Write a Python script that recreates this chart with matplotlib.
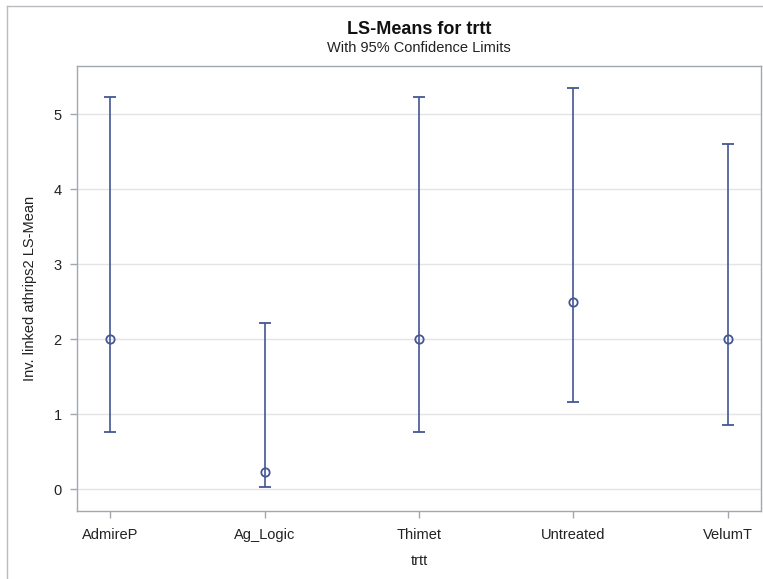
import matplotlib
matplotlib.use("Agg")
import matplotlib.pyplot as plt
from matplotlib.lines import Line2D

categories = ["AdmireP", "Ag_Logic", "Thimet", "Untreated", "VelumT"]
means = [2.0, 0.235, 2.0, 2.493, 2.0]
lower = [0.765, 0.027, 0.77, 1.168, 0.861]
upper = [5.235, 2.22, 5.235, 5.347, 4.608]

plt.rcParams['font.family'] = ['Liberation Sans', 'DejaVu Sans']

W, H = 763, 579
fig = plt.figure(figsize=(W / 100, H / 100), dpi=100)
ax = fig.add_axes([77 / W, 1 - 511 / H, (761 - 77) / W, (511 - 66) / H])

color = "#445694"
x = list(range(len(categories)))
yerr = [[m - l for m, l in zip(means, lower)], [u - m for u, m in zip(upper, means)]]
ax.errorbar(x, means, yerr=yerr, fmt='o', color=color, ecolor=color,
            elinewidth=1.2, capsize=4.5, capthick=1.2,
            markersize=6, markerfacecolor='none', markeredgewidth=1.3, zorder=3)

ax.set_xlim(-0.214, 4.214)
ax.set_ylim(-0.289, 5.644)
ax.set_xticks(x)
ax.set_xticklabels(categories)
ax.set_yticks([0, 1, 2, 3, 4, 5])
ax.yaxis.grid(True, color="#e4e4e4", linewidth=1)
ax.set_axisbelow(True)
for s in ax.spines.values():
    s.set_color("#a3a8ae")
    s.set_linewidth(1)
ax.tick_params(axis='both', colors="#a3a8ae", labelcolor="#222222",
               labelsize=10.5, length=5, width=1)
ax.tick_params(axis='x', pad=7)
ax.tick_params(axis='y', pad=6)

ax.set_xlabel("trtt", fontsize=10.5, color="#222222", labelpad=9)
ax.set_ylabel("Inv. linked athrips2 LS-Mean", fontsize=10.5, color="#222222", labelpad=12)

fig.text(419 / W, 1 - 29 / H, "LS-Means for trtt", ha='center', va='center',
         fontsize=13, fontweight='bold', color="#111111")
fig.text(419 / W, 1 - 48 / H, "With 95% Confidence Limits", ha='center', va='center',
         fontsize=10.5, color="#222222")

fig.add_artist(Line2D([7 / W, 1], [1 - 6 / H, 1 - 6 / H], transform=fig.transFigure,
                      color="#b8bcc0", linewidth=1))
fig.add_artist(Line2D([7 / W, 7 / W], [0, 1 - 6 / H], transform=fig.transFigure,
                      color="#b8bcc0", linewidth=1))

fig.savefig("out.png", dpi=100)
